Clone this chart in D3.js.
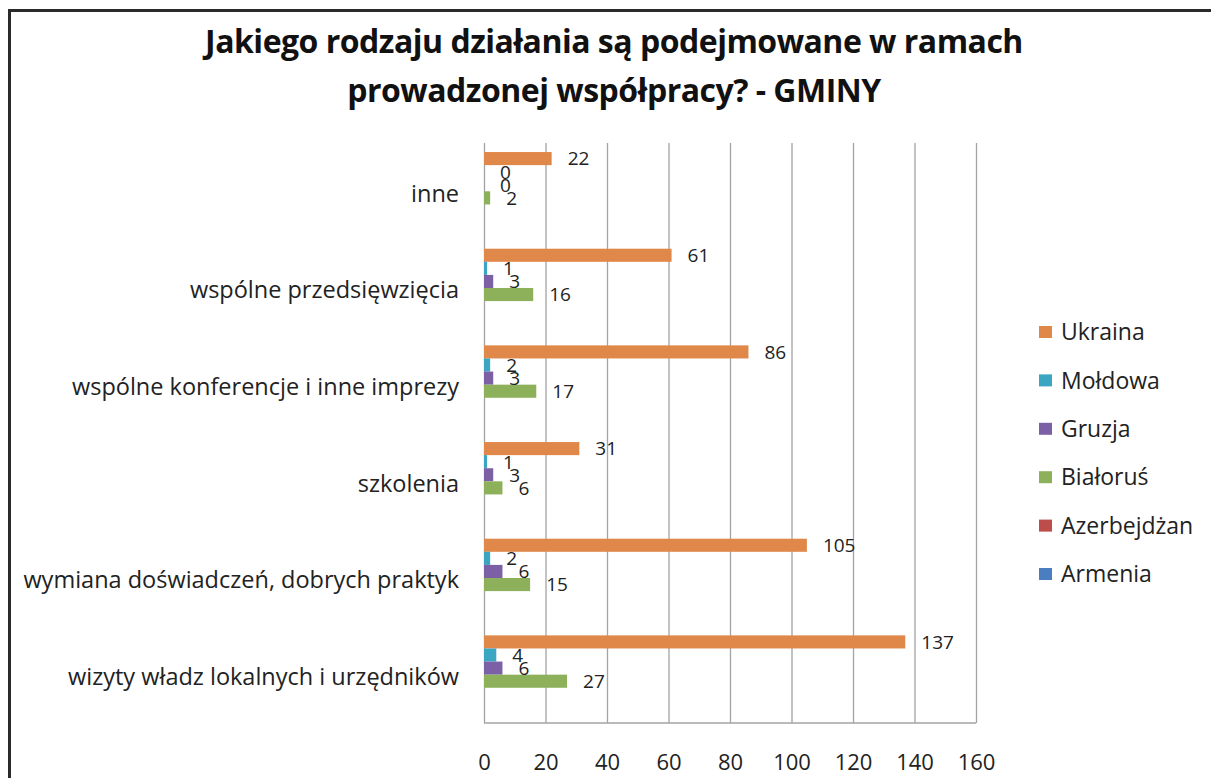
<!DOCTYPE html>
<html>
<head>
<meta charset="utf-8">
<script src="https://cdn.jsdelivr.net/npm/d3@7"></script>
<style>
  body { margin: 0; background: #fff; }
  svg { display: block; font-family: "Open Sans", Lato, sans-serif; }
  .grid line { stroke: #a3a3a3; stroke-width: 1.3px; }
  .grid .domain { display: none; }
  .axis .domain { display: none; }
  .axis text { fill: #222; }
</style>
</head>
<body>
<svg width="1211" height="778"></svg>
<script>
// categories, top to bottom
var categories = [
  "inne",
  "wspólne przedsięwzięcia",
  "wspólne konferencje i inne imprezy",
  "szkolenia",
  "wymiana doświadczeń, dobrych praktyk",
  "wizyty władz lokalnych i urzędników"
];

// series in legend order (top to bottom inside each group)
var seriesNames = ["Ukraina", "Mołdowa", "Gruzja", "Białoruś", "Azerbejdżan", "Armenia"];
var seriesColors = ["#e0884a", "#3ba6c1", "#7b60a6", "#8cb15a", "#bc4d4b", "#4b7ec0"];

// values per category, same order as categories
var ukraina     = [22, 61, 86, 31, 105, 137];
var moldowa     = [0, 1, 2, 1, 2, 4];
var gruzja      = [0, 3, 3, 3, 6, 6];
var bialorus    = [2, 16, 17, 6, 15, 27];
var azerbejdzan = [null, null, null, null, null, null];
var armenia     = [null, null, null, null, null, null];

var xTicks = [0, 20, 40, 60, 80, 100, 120, 140, 160];

var seriesValues = [ukraina, moldowa, gruzja, bialorus, azerbejdzan, armenia];

var svg = d3.select("svg"),
    plot = {left: 484, right: 976, top: 143, bottom: 723};

// outer frame
svg.append("rect")
    .attr("x", 9.5).attr("y", 10.5)
    .attr("width", 1260).attr("height", 820)
    .attr("fill", "none")
    .attr("stroke", "#2a2a2a")
    .attr("stroke-width", 3);

// title
var title = svg.append("text")
    .attr("text-anchor", "middle")
    .attr("font-weight", "bold")
    .attr("font-size", 32)
    .attr("letter-spacing", -0.5)
    .attr("fill", "#111");
title.append("tspan").attr("x", 614).attr("y", 53)
    .text("Jakiego rodzaju działania są podejmowane w ramach");
title.append("tspan").attr("x", 614).attr("y", 102)
    .text("prowadzonej współpracy? - GMINY");

var xScale = d3.scaleLinear().domain([0, 160]).range([plot.left, plot.right]);

var yScale = d3.scaleBand()
    .domain(categories)
    .range([plot.top, plot.bottom])
    .paddingInner(0.187)
    .paddingOuter(0.0935);

var ySeries = d3.scaleBand()
    .domain(seriesNames)
    .range([0, yScale.bandwidth()]);

var colorScale = d3.scaleOrdinal().domain(seriesNames).range(seriesColors);

// vertical gridlines
svg.append("g")
    .attr("class", "grid")
    .attr("transform", "translate(0," + plot.bottom + ")")
    .call(d3.axisBottom(xScale)
        .tickValues(xTicks)
        .tickSize(-(plot.bottom - plot.top))
        .tickFormat(""));

// bottom axis line
svg.append("line")
    .attr("x1", plot.left).attr("x2", plot.right)
    .attr("y1", plot.bottom).attr("y2", plot.bottom)
    .attr("stroke", "#a3a3a3").attr("stroke-width", 1.3);

// x tick labels
svg.append("g")
    .attr("class", "axis")
    .attr("transform", "translate(0," + plot.bottom + ")")
    .call(d3.axisBottom(xScale).tickValues(xTicks).tickSize(0).tickPadding(31))
    .selectAll("text")
    .attr("font-size", 22)
    .attr("font-family", "'Open Sans', sans-serif");

// category labels
var cellH = (plot.bottom - plot.top) / categories.length;
svg.append("g")
    .attr("class", "axis")
    .selectAll("text")
    .data(categories)
    .enter().append("text")
    .attr("x", 459)
    .attr("y", function(d, i) { return plot.top + cellH * (i + 0.5) + 2; })
    .attr("dy", "0.35em")
    .attr("text-anchor", "end")
    .attr("font-size", 23.5)
    .attr("fill", "#222")
    .text(function(d) { return d; });

// flatten into bar records
var bars = [];
categories.forEach(function(c, ci) {
  seriesNames.forEach(function(s, si) {
    var v = seriesValues[si][ci];
    if (v !== null) bars.push({cat: c, series: s, value: v});
  });
});

var group = svg.append("g");

group.selectAll("rect.bar")
    .data(bars)
    .enter().append("rect")
    .attr("class", "bar")
    .attr("x", xScale(0))
    .attr("y", function(d) { return yScale(d.cat) + ySeries(d.series); })
    .attr("width", function(d) { return xScale(d.value) - xScale(0); })
    .attr("height", ySeries.bandwidth())
    .attr("fill", function(d) { return colorScale(d.series); });

group.selectAll("text.lbl")
    .data(bars)
    .enter().append("text")
    .attr("class", "lbl")
    .attr("x", function(d) { return xScale(d.value) + 16; })
    .attr("y", function(d) { return yScale(d.cat) + ySeries(d.series) + ySeries.bandwidth() / 2; })
    .attr("dy", "0.36em")
    .attr("font-size", 19)
    .attr("fill", "#222")
    .text(function(d) { return d.value; });

// legend
var legend = svg.append("g")
    .selectAll("g")
    .data(seriesNames)
    .enter().append("g")
    .attr("transform", function(d, i) { return "translate(1039," + (332 + i * 48.4) + ")"; });

legend.append("rect")
    .attr("x", 0).attr("y", -6)
    .attr("width", 13).attr("height", 12)
    .attr("fill", function(d) { return colorScale(d); });

legend.append("text")
    .attr("x", 22)
    .attr("dy", "0.36em")
    .attr("font-size", 23)
    .attr("fill", "#222")
    .text(function(d) { return d; });
</script>
</body>
</html>
